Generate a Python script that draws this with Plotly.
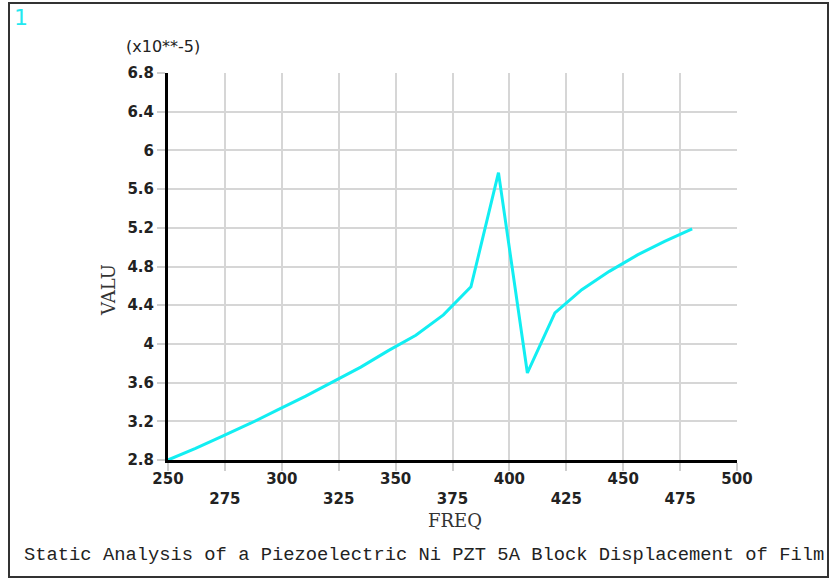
import plotly.graph_objects as go

# Data (values in units of 1e-5)
freq = [250, 262.1, 274.2, 286.3, 298.4, 310.5, 322.6, 334.7, 346.8, 358.9,
        371.0, 383.1, 395.2, 407.9, 420.0, 431.8, 443.9, 456.3, 468.2, 480.3]
valu = [2.80, 2.92, 3.05, 3.18, 3.32, 3.46, 3.61, 3.76, 3.93, 4.09,
        4.30, 4.59, 5.77, 3.70, 4.32, 4.56, 4.75, 4.92, 5.06, 5.19]

x_tick_vals = [250, 275, 300, 325, 350, 375, 400, 425, 450, 475, 500]
x_tick_text = ["250", "<br>275", "300", "<br>325", "350", "<br>375",
               "400", "<br>425", "450", "<br>475", "500"]
y_tick_vals = [2.8, 3.2, 3.6, 4.0, 4.4, 4.8, 5.2, 5.6, 6.0, 6.4, 6.8]
y_tick_text = ["2.8", "3.2", "3.6", "4", "4.4", "4.8", "5.2", "5.6", "6", "6.4", "6.8"]

title_text = "Static Analysis of a Piezoelectric Ni PZT 5A Block Displacement of Film"

W, H = 830, 579
L, R, T, B = 168, 93, 73, 119
pw, ph = W - L - R, H - T - B

def px(x):
    return (x - L) / pw

def py(y):
    return (H - B - y) / ph

tick_font = dict(family="DejaVu Sans", size=15, color="#222222", weight="bold")

fig = go.Figure()
fig.add_trace(go.Scatter(x=freq, y=valu, mode="lines",
                         line=dict(color="#12EEF2", width=3),
                         showlegend=False, cliponaxis=False))

fig.update_layout(
    width=W, height=H,
    margin=dict(l=L, r=R, t=T, b=B),
    paper_bgcolor="white", plot_bgcolor="white",
    xaxis=dict(range=[250, 500], tickvals=x_tick_vals, ticktext=x_tick_text,
               showgrid=True, gridcolor="#d6d6d6", gridwidth=1.5,
               showline=True, linecolor="black", linewidth=3,
               ticks="outside", ticklen=8, tickcolor="#cfcfcf", tickwidth=1.5,
               ticklabelstandoff=-5,
               tickfont=tick_font, zeroline=False, fixedrange=True),
    yaxis=dict(range=[2.8, 6.8], tickvals=y_tick_vals, ticktext=y_tick_text,
               showgrid=True, gridcolor="#d6d6d6", gridwidth=1.5,
               showline=True, linecolor="black", linewidth=3,
               ticks="outside", ticklen=8, tickcolor="#cfcfcf", tickwidth=1.5,
               tickfont=tick_font, zeroline=False, fixedrange=True),
    shapes=[dict(type="rect", xref="paper", yref="paper",
                 x0=px(9), x1=px(828), y0=py(577), y1=py(3),
                 line=dict(color="#333333", width=2))],
    annotations=[
        dict(text="1", xref="paper", yref="paper", x=px(21), y=py(18),
             xanchor="center", yanchor="middle", showarrow=False,
             font=dict(family="DejaVu Sans", size=22, color="#22E8F0", weight="normal")),
        dict(text="(x10**-5)", xref="paper", yref="paper", x=px(124), y=py(47),
             xanchor="left", yanchor="middle", showarrow=False,
             font=dict(family="DejaVu Sans", size=16, color="#222222")),
        dict(text="VALU", xref="paper", yref="paper", x=px(108), y=py(290),
             xanchor="center", yanchor="middle", showarrow=False, textangle=-90,
             font=dict(family="DejaVu Serif", size=18, color="#333333")),
        dict(text="FREQ", xref="paper", yref="paper", x=px(455), y=py(520),
             xanchor="center", yanchor="middle", showarrow=False,
             font=dict(family="DejaVu Serif", size=18, color="#333333")),
        dict(text=title_text, xref="paper", yref="paper", x=px(22), y=py(555),
             xanchor="left", yanchor="middle", showarrow=False,
             font=dict(family="Liberation Mono", size=18.8, color="#222222")),
    ],
)

fig.write_html("out.html")
